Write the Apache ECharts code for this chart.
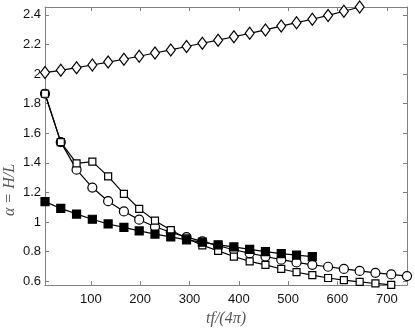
<!DOCTYPE html>
<html>
<head>
<meta charset="utf-8">
<script src="https://cdn.jsdelivr.net/npm/echarts@6/dist/echarts.min.js"></script>
<style>
  html, body { margin: 0; padding: 0; background: #fff; }
  #chart { width: 415px; height: 332px; }
</style>
</head>
<body>
<div id="chart"></div>
<script>
// x positions (tf/(4pi)) shared by every series
const xValues = [7, 39, 71, 103, 135, 167, 198, 230, 262, 294, 326, 358, 390, 422, 454, 486, 517, 549, 581, 613, 645, 677, 709, 741]

// alpha = H/L for each run
const diamondValues = [2.01, 2.025, 2.043, 2.061, 2.081, 2.10, 2.12, 2.142, 2.163, 2.186, 2.208, 2.229, 2.252, 2.275, 2.298, 2.324, 2.347, 2.37, 2.396, 2.424, 2.453]
const circleValues = [1.867, 1.54, 1.354, 1.233, 1.141, 1.072, 1.016, 0.968, 0.931, 0.898, 0.869, 0.84, 0.813, 0.79, 0.767, 0.746, 0.727, 0.711, 0.698, 0.683, 0.67, 0.657, 0.646, 0.635]
const openSquareValues = [1.867, 1.54, 1.397, 1.408, 1.309, 1.191, 1.089, 1.009, 0.946, 0.89, 0.843, 0.805, 0.767, 0.734, 0.711, 0.683, 0.661, 0.642, 0.622, 0.607, 0.596, 0.585, 0.576]
const filledSquareValues = [1.138, 1.092, 1.054, 1.019, 0.987, 0.964, 0.94, 0.919, 0.9, 0.88, 0.864, 0.846, 0.832, 0.815, 0.80, 0.787, 0.777, 0.767]

const xTicks = [100, 200, 300, 400, 500, 600, 700]
const yTicks = [0.6, 0.8, 1, 1.2, 1.4, 1.6, 1.8, 2, 2.2, 2.4]

const xMin = 7
const xMax = 741
const yMin = 0.574
const yMax = 2.453

const axisGray = '#808080'
const labelFont = { color: '#111', fontSize: 13, fontFamily: 'Liberation Sans' }

const pairs = values => values.map((v, i) => [xValues[i], v])

function makeSeries(values, symbol, size, filled) {
  return {
    type: 'line',
    data: pairs(values),
    symbol: symbol,
    symbolSize: size,
    showAllSymbol: true,
    lineStyle: { color: '#000', width: 1.2 },
    itemStyle: {
      color: filled ? '#000' : '#fff',
      borderColor: '#000',
      borderWidth: 1.2
    },
    emphasis: { disabled: true },
    animation: false,
    z: 3
  }
}

function xAxisDef(position, showLabels) {
  return {
    type: 'value',
    position: position,
    min: xMin,
    max: xMax,
    axisLine: { show: true, lineStyle: { color: axisGray } },
    axisTick: { show: true, inside: true, length: 4, customValues: xTicks, lineStyle: { color: axisGray } },
    axisLabel: Object.assign({ show: showLabels, margin: 8, customValues: xTicks }, labelFont),
    splitLine: { show: false }
  }
}

function yAxisDef(position, showLabels) {
  return {
    type: 'value',
    position: position,
    min: yMin,
    max: yMax,
    axisLine: { show: true, lineStyle: { color: axisGray } },
    axisTick: { show: true, inside: true, length: 4, customValues: yTicks, lineStyle: { color: axisGray } },
    axisLabel: Object.assign({
      show: showLabels,
      margin: 4,
      customValues: yTicks,
      formatter: v => String(Math.round(v * 10) / 10)
    }, labelFont),
    splitLine: { show: false }
  }
}

const chart = echarts.init(document.getElementById('chart'))

const bottomAxis = xAxisDef('bottom', true)
bottomAxis.name = 'tf/(4π)'
bottomAxis.nameLocation = 'middle'
bottomAxis.nameGap = 24
bottomAxis.nameTextStyle = { color: '#555', fontSize: 16, fontStyle: 'italic', fontFamily: 'Liberation Serif' }

chart.setOption({
  animation: false,
  grid: { left: 45, right: 8, top: 7, bottom: 39 },
  xAxis: [bottomAxis, xAxisDef('top', false)],
  yAxis: [yAxisDef('left', true), yAxisDef('right', false)],
  graphic: [{
    type: 'text',
    x: 10,
    y: 190,
    rotation: Math.PI / 2,
    style: {
      text: 'α = H/L',
      fill: '#555',
      font: 'italic 16px "Liberation Serif"',
      align: 'center',
      verticalAlign: 'middle'
    }
  }],
  series: [
    makeSeries(diamondValues, 'diamond', [9, 12], false),
    makeSeries(circleValues, 'circle', 9, false),
    makeSeries(openSquareValues, 'rect', 7, false),
    makeSeries(filledSquareValues, 'rect', 8, true)
  ]
})
</script>
</body>
</html>
